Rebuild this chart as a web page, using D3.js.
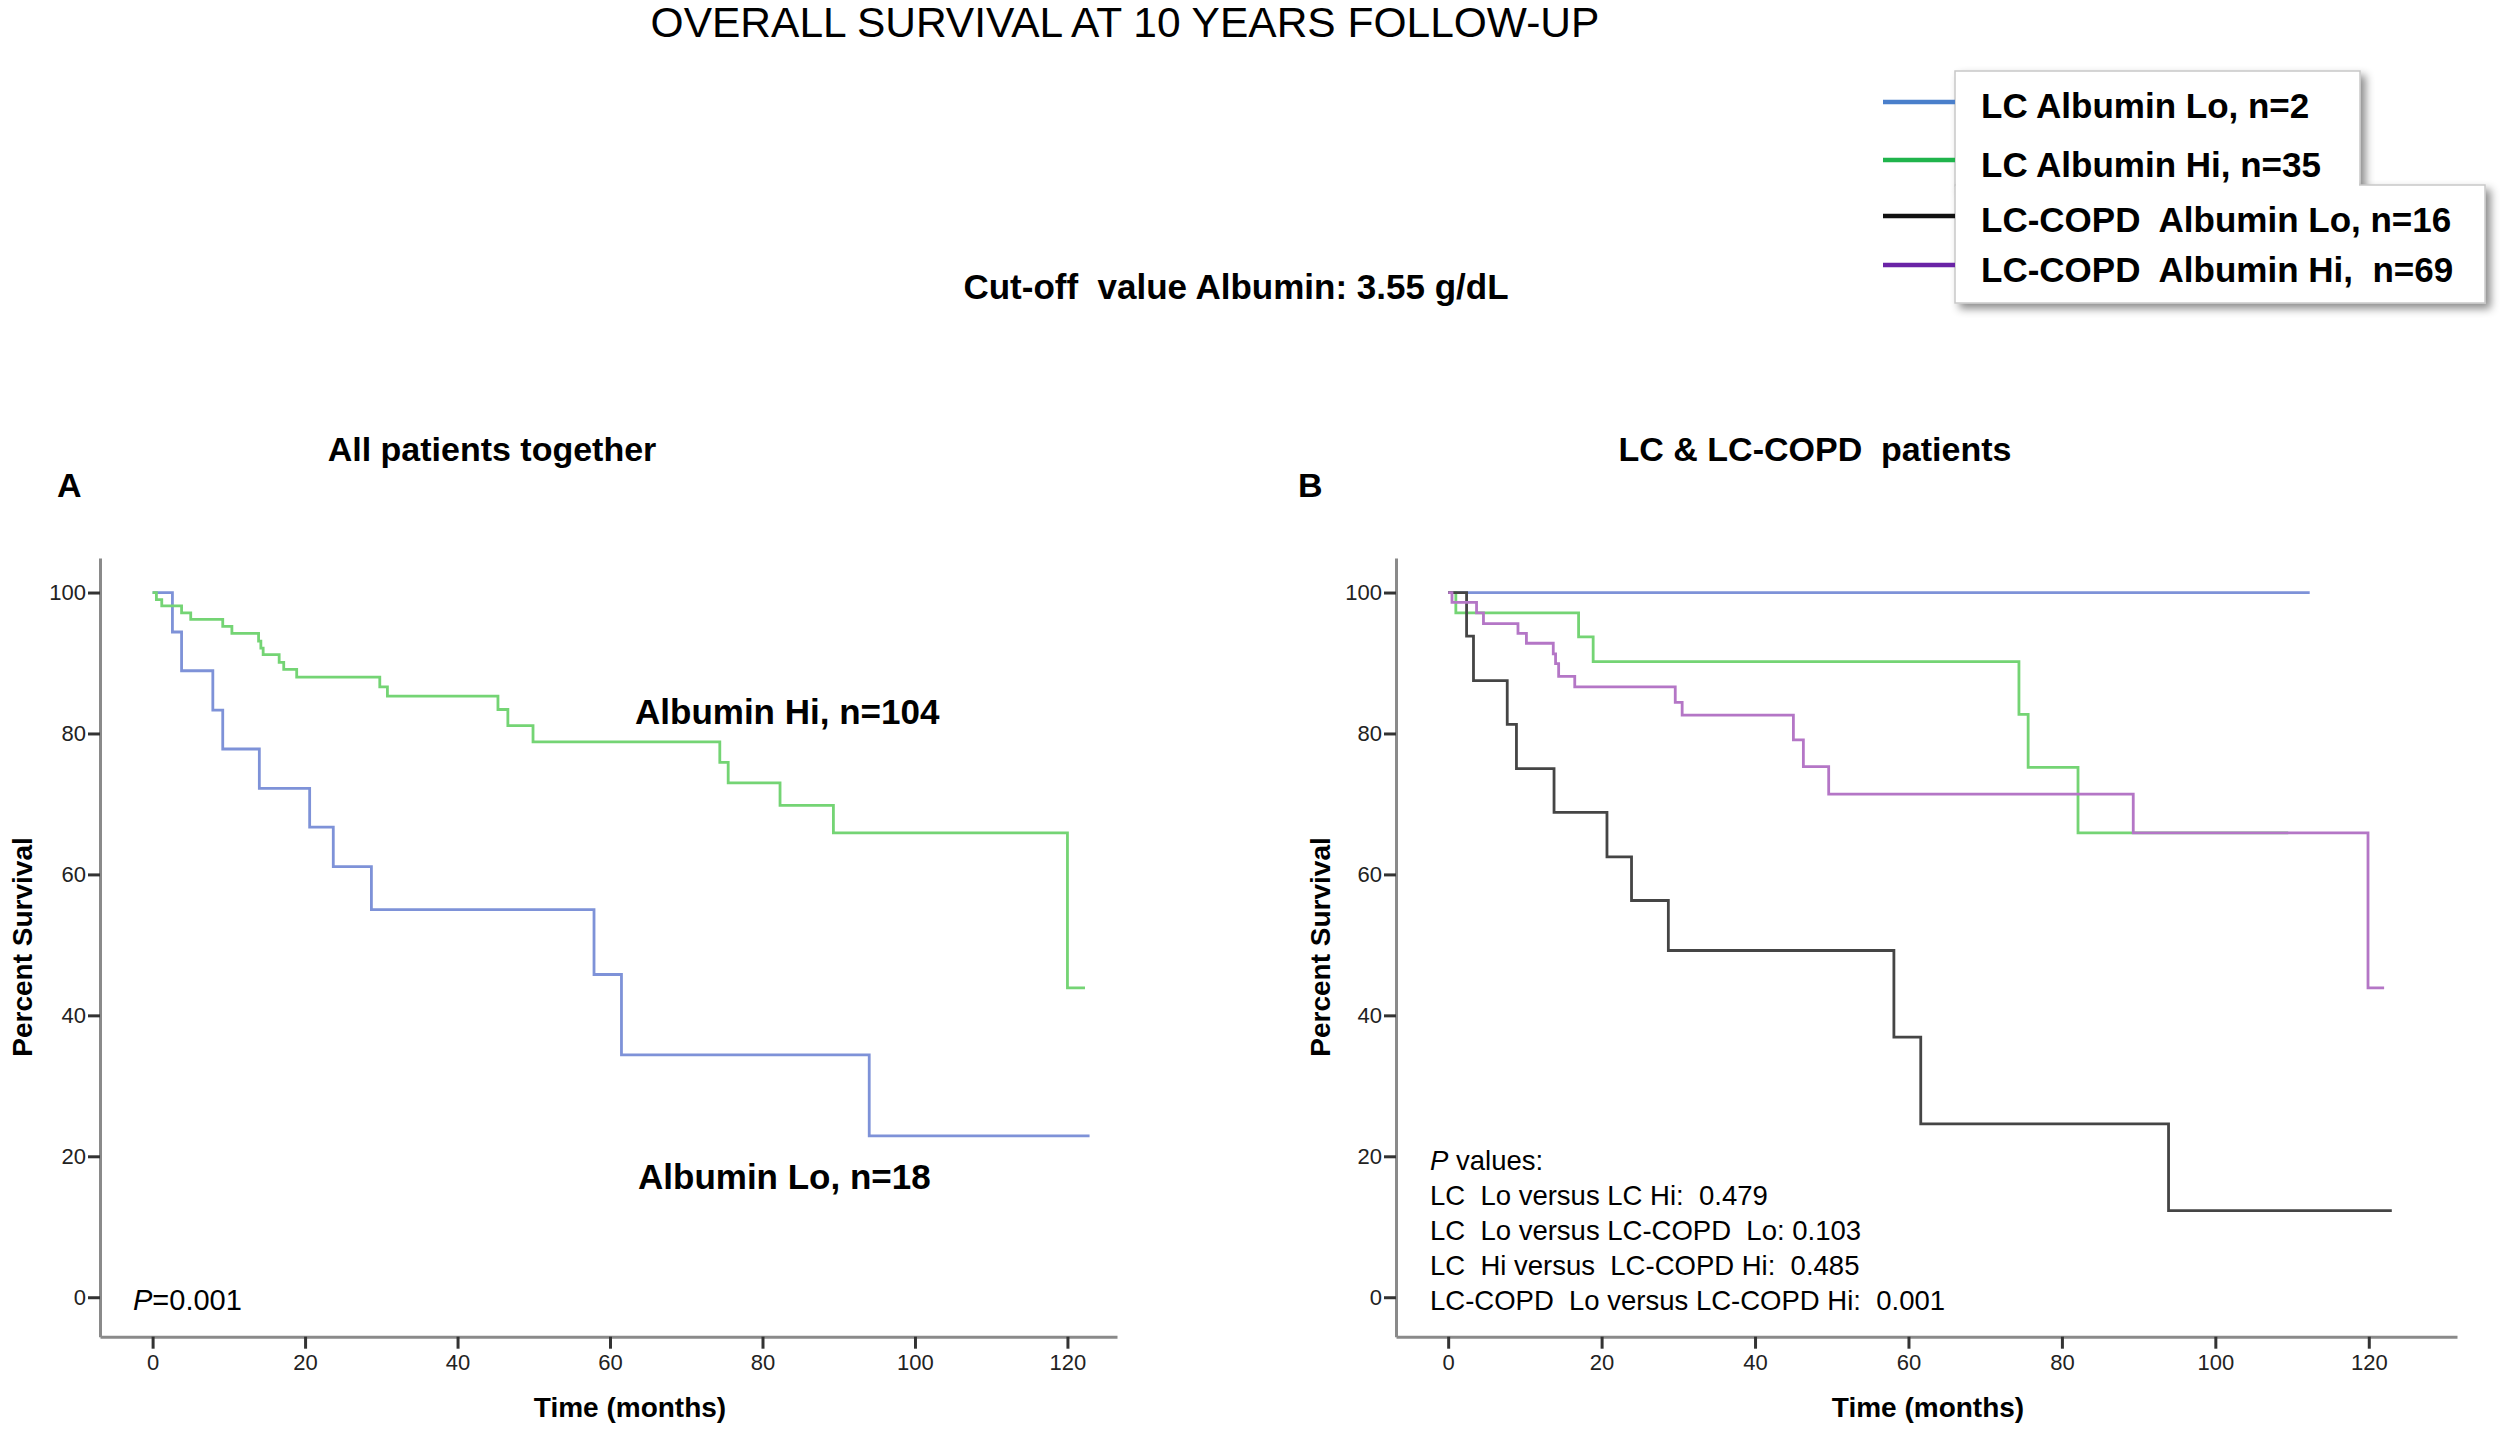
<!DOCTYPE html>
<html>
<head>
<meta charset="utf-8">
<script src="https://cdn.jsdelivr.net/npm/d3@7"></script>
<style>
  body { margin: 0; background: #fff; }
  text { font-family: 'Liberation Sans', Arial, Helvetica, sans-serif; white-space: pre; }
</style>
</head>
<body>
<script>

// Kaplan-Meier curves (time in months, survival in %)

// Panel A - all patients
const aLoTime = [0, 2.6, 3.8, 7.9, 9.2, 14.0, 20.6, 23.7, 28.7, 57.9, 61.5, 94.0, 122.9];
const aLoSurv = [100, 94.4, 88.9, 83.3, 77.8, 72.2, 66.7, 61.1, 55.0, 45.8, 34.4, 22.9, 22.9];
const aHiTime = [0, 0.5, 1.2, 3.8, 5.0, 9.2, 10.4, 13.9, 14.2, 14.5, 16.6, 17.2, 18.9, 29.8, 30.8, 45.3, 46.6, 49.9, 74.4, 75.5, 82.3, 89.3, 120.0, 122.3];
const aHiSurv = [100, 99.0, 98.1, 97.1, 96.2, 95.2, 94.2, 93.1, 92.1, 91.2, 90.1, 89.1, 88.0, 86.6, 85.3, 83.4, 81.1, 78.8, 75.9, 73.0, 69.8, 65.9, 43.9, 43.9];

// Panel B - LC and LC-COPD
const bLcLoTime = [0, 112.3];
const bLcLoSurv = [100, 100];
const bLcHiTime = [0, 1.0, 17.0, 18.9, 74.4, 75.6, 82.1, 109.5];
const bLcHiSurv = [100, 97.1, 93.7, 90.2, 82.7, 75.2, 65.9, 65.9];
const bCopdLoTime = [0, 2.4, 3.3, 7.7, 8.9, 13.8, 20.7, 23.9, 28.7, 58.1, 61.6, 93.9, 123.0];
const bCopdLoSurv = [100, 93.8, 87.5, 81.3, 75.0, 68.8, 62.5, 56.3, 49.2, 36.9, 24.6, 12.3, 12.3];
const bCopdHiTime = [0, 0.5, 3.7, 4.6, 9.1, 10.2, 13.7, 14.0, 14.4, 16.5, 29.6, 30.5, 45.0, 46.3, 49.6, 89.3, 119.9, 122.0];
const bCopdHiSurv = [100, 98.6, 97.1, 95.6, 94.2, 92.8, 91.3, 89.9, 88.1, 86.6, 84.4, 82.6, 79.1, 75.3, 71.4, 65.9, 43.9, 43.9];

// Ticks
const xTicks = [0, 20, 40, 60, 80, 100, 120];
const yTicks = [0, 20, 40, 60, 80, 100];

// Legend
const legendLabels = ["LC Albumin Lo, n=2", "LC Albumin Hi, n=35", "LC-COPD  Albumin Lo, n=16", "LC-COPD  Albumin Hi,  n=69"];
const legendColors = ["#4a7fcb", "#20b44c", "#111111", "#6a23a6"];

// p values text for panel B
const pLines = ["LC  Lo versus LC Hi:  0.479", "LC  Lo versus LC-COPD  Lo: 0.103", "LC  Hi versus  LC-COPD Hi:  0.485", "LC-COPD  Lo versus LC-COPD Hi:  0.001"];

const width = 2508, height = 1431;
const colBlue = "#7e92d8", colGreen = "#74d474", colBlack = "#454545", colPurple = "#b476c6";

const svg = d3.select("body")
              .append("svg")
              .attr("width", width)
              .attr("height", height);

// drop shadow for the legend boxes
const defs = svg.append("defs");
const shadow = defs.append("filter").attr("id", "shadow")
                   .attr("x", "-10%").attr("y", "-10%").attr("width", "130%").attr("height", "140%");
shadow.append("feDropShadow").attr("dx", 5).attr("dy", 5).attr("stdDeviation", 4)
      .attr("flood-color", "#000").attr("flood-opacity", 0.45);

// Titles
svg.append("text").attr("x", 1125).attr("y", 37).attr("text-anchor", "middle")
   .attr("font-size", 42.5).text("OVERALL SURVIVAL AT 10 YEARS FOLLOW-UP");

svg.append("text").attr("x", 1236).attr("y", 299).attr("text-anchor", "middle")
   .attr("font-size", 35).attr("font-weight", "bold").text("Cut-off  value Albumin: 3.55 g/dL");

// Legend boxes (two overlapping boxes, like in the figure)
svg.append("rect").attr("x", 1955).attr("y", 71).attr("width", 405).attr("height", 115)
   .attr("fill", "#fff").attr("stroke", "#c8c8c8").attr("stroke-width", 1.5).attr("filter", "url(#shadow)");
svg.append("rect").attr("x", 1955).attr("y", 185).attr("width", 530).attr("height", 118)
   .attr("fill", "#fff").attr("stroke", "#c8c8c8").attr("stroke-width", 1.5).attr("filter", "url(#shadow)");
svg.append("rect").attr("x", 1956).attr("y", 150).attr("width", 403).attr("height", 36).attr("fill", "#fff");

const legendLineY = [102, 160, 216, 265];
const legendTextY = [118, 177, 232, 282];
legendLabels.forEach((lab, i) => {
    svg.append("line").attr("x1", 1883).attr("x2", 1955)
       .attr("y1", legendLineY[i]).attr("y2", legendLineY[i])
       .attr("stroke", legendColors[i]).attr("stroke-width", 4.5);
    svg.append("text").attr("x", 1981).attr("y", legendTextY[i])
       .attr("font-size", 35).attr("font-weight", "bold").text(lab);
});

// One Kaplan-Meier panel
function drawPanel(p) {
    const x = d3.scaleLinear().domain(p.xDomain).range(p.xRange);
    const y = d3.scaleLinear().domain([-5.6, 104.9]).range([1336.7, 558]);

    const g = svg.append("g");

    // x axis
    const xAxis = g.append("g")
        .attr("transform", `translate(0, ${y.range()[0]})`)
        .call(d3.axisBottom(x).tickValues(xTicks).tickSize(12).tickSizeOuter(0).tickPadding(6));
    // y axis
    const yAxis = g.append("g")
        .attr("transform", `translate(${x.range()[0]}, 0)`)
        .call(d3.axisLeft(y).tickValues(yTicks).tickSize(12).tickSizeOuter(0).tickPadding(2));

    [xAxis, yAxis].forEach(ax => {
        ax.select(".domain").attr("stroke", "#8a8a8a").attr("stroke-width", 3);
        ax.selectAll(".tick line").attr("stroke", "#333").attr("stroke-width", 3);
        ax.selectAll(".tick text").attr("font-size", 22).attr("fill", "#222")
          .attr("font-family", "'Liberation Sans', Arial, sans-serif");
    });

    // axis titles
    g.append("text").attr("x", p.xLabelX).attr("y", 1417).attr("text-anchor", "middle")
     .attr("font-size", 28).attr("font-weight", "bold").text("Time (months)");
    g.append("text").attr("transform", `translate(${p.yLabelX}, 947) rotate(-90)`)
     .attr("text-anchor", "middle").attr("font-size", 28).attr("font-weight", "bold").text("Percent Survival");

    // panel title and letter
    g.append("text").attr("x", p.titleX).attr("y", 461).attr("text-anchor", "middle")
     .attr("font-size", 34).attr("font-weight", "bold").text(p.title);
    g.append("text").attr("x", p.letterX).attr("y", 497)
     .attr("font-size", 34).attr("font-weight", "bold").text(p.letter);

    // step curves
    const line = d3.line()
        .x(d => x(d[0]))
        .y(d => y(d[1]))
        .curve(d3.curveStepAfter);

    p.series.forEach(s => {
        const pts = s.time.map((t, i) => [t, s.surv[i]]);
        g.append("path")
         .datum(pts)
         .attr("d", line)
         .attr("fill", "none")
         .attr("stroke", s.color)
         .attr("stroke-width", 2.8);
    });
    return g;
}

const gA = drawPanel({
    xDomain: [-6.9, 126.5], xRange: [100, 1117],
    xLabelX: 630, yLabelX: 32, titleX: 492, title: "All patients together",
    letterX: 57, letter: "A",
    series: [
        { time: aLoTime, surv: aLoSurv, color: colBlue },
        { time: aHiTime, surv: aHiSurv, color: colGreen }
    ]
});

const gB = drawPanel({
    xDomain: [-6.8, 131.5], xRange: [1396, 2457],
    xLabelX: 1928, yLabelX: 1330, titleX: 1815, title: "LC & LC-COPD  patients",
    letterX: 1298, letter: "B",
    series: [
        { time: bLcLoTime, surv: bLcLoSurv, color: colBlue },
        { time: bLcHiTime, surv: bLcHiSurv, color: colGreen },
        { time: bCopdLoTime, surv: bCopdLoSurv, color: colBlack },
        { time: bCopdHiTime, surv: bCopdHiSurv, color: colPurple }
    ]
});

// Panel A annotations
gA.append("text").attr("x", 635).attr("y", 724).attr("font-size", 35).attr("font-weight", "bold").text("Albumin Hi, n=104");
gA.append("text").attr("x", 638).attr("y", 1189).attr("font-size", 35).attr("font-weight", "bold").text("Albumin Lo, n=18");

const pA = gA.append("text").attr("x", 133).attr("y", 1310).attr("font-size", 29);
pA.append("tspan").attr("font-style", "italic").text("P");
pA.append("tspan").text("=0.001");

// Panel B p values
const pB = gB.append("text").attr("x", 1430).attr("y", 1170).attr("font-size", 27.5);
pB.append("tspan").attr("font-style", "italic").text("P");
pB.append("tspan").text(" values:");

gB.selectAll(".pline")
  .data(pLines)
  .enter()
  .append("text")
  .attr("class", "pline")
  .attr("x", 1430)
  .attr("y", (d, i) => 1205 + i * 35)
  .attr("font-size", 27.5)
  .text(d => d);

</script>
</body>
</html>
